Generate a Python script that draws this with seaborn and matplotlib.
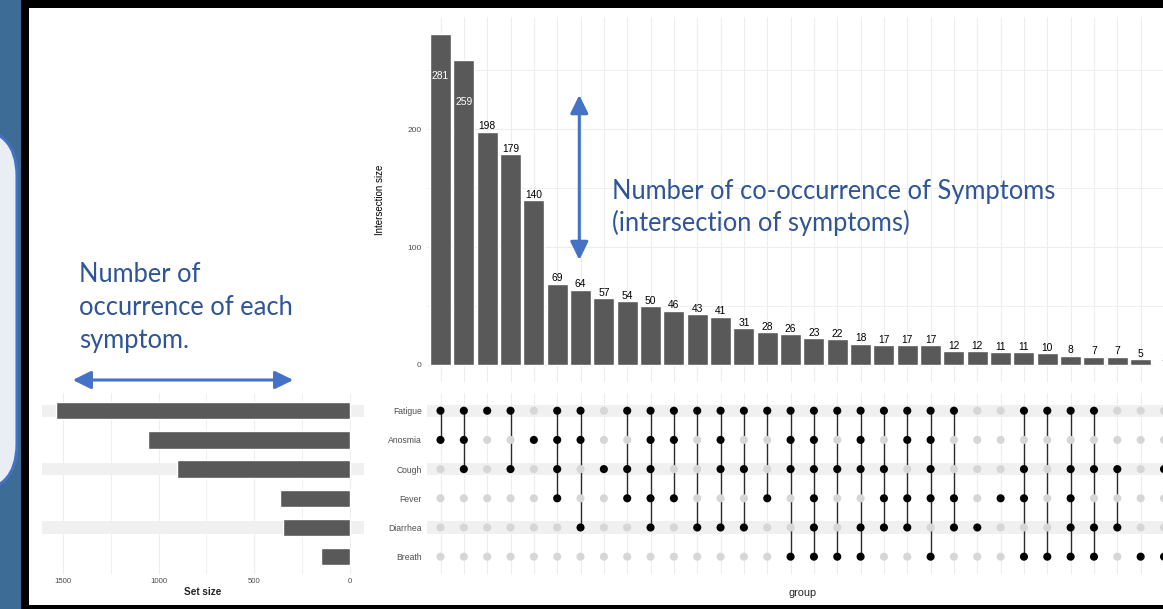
import matplotlib
matplotlib.use("Agg")
import matplotlib.pyplot as plt
import numpy as np
import pandas as pd
import seaborn as sns
from matplotlib.patches import FancyBboxPatch, Rectangle, FancyArrowPatch
from matplotlib.ticker import MultipleLocator

# ---- data -------------------------------------------------------------
sets = ["Fatigue", "Anosmia", "Cough", "Fever", "Diarrhea", "Breath"]
set_sizes = [1535, 1055, 902, 364, 350, 148]

intersection_sizes = [281, 259, 198, 179, 140, 69, 64, 57, 54, 50, 46, 43,
                      41, 31, 28, 26, 23, 22, 18, 17, 17, 17, 12, 12, 11, 11,
                      10, 8, 7, 7, 5, 1]

intersection_members = [
    ["Fatigue", "Anosmia"],
    ["Fatigue", "Anosmia", "Cough"],
    ["Fatigue"],
    ["Fatigue", "Cough"],
    ["Anosmia"],
    ["Fatigue", "Anosmia", "Cough", "Fever"],
    ["Fatigue", "Anosmia", "Diarrhea"],
    ["Cough"],
    ["Fatigue", "Cough", "Fever"],
    ["Fatigue", "Anosmia", "Cough", "Fever", "Diarrhea"],
    ["Fatigue", "Anosmia", "Fever"],
    ["Fatigue", "Diarrhea"],
    ["Fatigue", "Anosmia", "Cough", "Diarrhea"],
    ["Fatigue", "Cough", "Diarrhea"],
    ["Fatigue", "Fever"],
    ["Fatigue", "Anosmia", "Cough", "Breath"],
    ["Fatigue", "Anosmia", "Cough", "Fever", "Diarrhea", "Breath"],
    ["Fatigue", "Cough", "Breath"],
    ["Fatigue", "Anosmia", "Cough", "Diarrhea", "Breath"],
    ["Fatigue", "Cough", "Fever", "Diarrhea"],
    ["Fatigue", "Anosmia", "Fever", "Diarrhea"],
    ["Fatigue", "Anosmia", "Cough", "Fever", "Breath"],
    ["Fatigue", "Fever", "Diarrhea"],
    ["Diarrhea"],
    ["Fever"],
    ["Fatigue", "Cough", "Fever", "Breath"],
    ["Fatigue", "Breath"],
    ["Fatigue", "Cough", "Fever", "Diarrhea", "Breath"],
    ["Fatigue", "Cough", "Diarrhea", "Breath"],
    ["Cough", "Diarrhea"],
    ["Breath"],
    ["Cough", "Breath"],
]

intersection_names = ["-".join(m) for m in intersection_members]

# ---- style ------------------------------------------------------------
sns.set_theme(style="white")
plt.rcParams["font.family"] = ["Liberation Sans", "DejaVu Sans"]

W, H = 1163, 609
fig = plt.figure(figsize=(W / 100, H / 100), dpi=100)

BAR = "#595959"
GRID = "#EDEDED"
BAND = "#F0F0F0"
TICK = "#4D4D4D"
ANNOT_TEXT = "#2F5597"
ANNOT_LINE = "#4472C4"


def px_axes(x0, y0, x1, y1, z=1):
    ax = fig.add_axes([x0 / W, 1 - y1 / H, (x1 - x0) / W, (y1 - y0) / H], zorder=z)
    ax.set_facecolor("none")
    return ax


# ---- slide background ---------------------------------------------------
bg = fig.add_axes([0, 0, 1, 1], zorder=0)
bg.set_xlim(0, W)
bg.set_ylim(H, 0)
bg.axis("off")
bg.add_patch(Rectangle((0, 0), W, H, fc="#3D6D96", ec="none"))
bg.add_patch(FancyBboxPatch((-80, 128), 97, 364,
                            boxstyle="round,pad=0,rounding_size=48",
                            fc="#E9EEF4", ec=ANNOT_LINE, lw=2.2))
bg.add_patch(Rectangle((21, 0), W, H, fc="black", ec="none"))
bg.add_patch(Rectangle((29, 8), W, 597, fc="white", ec="none"))

n_cols = len(intersection_sizes)
xlim = (-0.6, n_cols - 1 + 0.6)

# ---- intersection size bars ---------------------------------------------
ax_bar = px_axes(426.5, 17.4, 1178, 381.5)
df_int = pd.DataFrame({"group": intersection_names, "size": intersection_sizes})
sns.barplot(data=df_int, x="group", y="size", order=intersection_names,
            color=BAR, saturation=1, width=0.9, ax=ax_bar, zorder=2)
ax_bar.set_xlim(*xlim)
ymax = max(intersection_sizes)
ax_bar.set_ylim(-0.05 * ymax, 1.05 * ymax)
ax_bar.set_axisbelow(True)
ax_bar.yaxis.set_major_locator(MultipleLocator(100))
ax_bar.yaxis.set_minor_locator(MultipleLocator(50))
ax_bar.set_xticks(range(n_cols))
ax_bar.grid(True, which="major", axis="both", color=GRID, lw=0.8)
ax_bar.grid(True, which="minor", axis="y", color=GRID, lw=0.6)
for s in ax_bar.spines.values():
    s.set_visible(False)
ax_bar.tick_params(axis="x", labelbottom=False, length=0)
ax_bar.tick_params(axis="y", which="both", length=0, labelsize=6,
                   labelcolor=TICK, pad=3.4)
ax_bar.set_xlabel("")
ax_bar.set_ylabel("Intersection size", fontsize=7, color="black")
ax_bar.yaxis.set_label_coords(-0.0555, 0.5)

for i, v in enumerate(intersection_sizes):
    if v >= 0.9 * ymax:
        ax_bar.text(i, v - 36, str(v), ha="center", va="center",
                    color="white", fontsize=7.4, zorder=3)
    else:
        ax_bar.annotate(str(v), (i, v), xytext=(0, 0.2),
                        textcoords="offset points", ha="center", va="bottom",
                        color="black", fontsize=7.4, zorder=3,
                        annotation_clip=False)

# ---- membership matrix --------------------------------------------------
ax_mat = px_axes(426.5, 393.2, 1178, 574.2)
rows = []
for i, members in enumerate(intersection_members):
    for j, name in enumerate(sets):
        rows.append({"col": i, "row": j, "active": name in members})
df_mat = pd.DataFrame(rows)

for r in range(0, len(sets), 2):
    ax_mat.axhspan(r - 0.21, r + 0.21, color=BAND, zorder=0.6, lw=0)

for i, members in enumerate(intersection_members):
    idx = [sets.index(m) for m in members]
    if len(idx) > 1:
        ax_mat.vlines(i, min(idx), max(idx), color="#2B2B2B", lw=1.0, zorder=2)

sns.scatterplot(data=df_mat, x="col", y="row", hue="active",
                palette={True: "black", False: "#D6D6D6"}, s=34,
                linewidth=0, legend=False, ax=ax_mat, zorder=3)
ax_mat.set_xlim(*xlim)
ax_mat.set_ylim(len(sets) - 1 + 0.6, -0.6)
ax_mat.set_axisbelow(True)
ax_mat.set_xticks(range(n_cols))
ax_mat.set_yticks(range(len(sets)))
ax_mat.set_yticklabels(sets)
ax_mat.grid(True, axis="x", color=GRID, lw=0.8)
ax_mat.grid(False, axis="y")
for s in ax_mat.spines.values():
    s.set_visible(False)
ax_mat.tick_params(axis="x", labelbottom=False, length=0)
ax_mat.tick_params(axis="y", length=0, labelsize=6.2, labelcolor=TICK, pad=3.4)
ax_mat.set_ylabel("")
ax_mat.set_xlabel("group", fontsize=7.8, color="#222222")
ax_mat.xaxis.set_label_coords(0.5, -0.075)

# ---- set size bars --------------------------------------------------------
ax_set = px_axes(41.7, 393.2, 364.3, 574.2)
df_set = pd.DataFrame({"set": sets, "size": set_sizes})
for r in range(0, len(sets), 2):
    ax_set.axhspan(r - 0.21, r + 0.21, color=BAND, zorder=0.6, lw=0)
sns.barplot(data=df_set, x="size", y="set", order=sets, orient="h",
            color=BAR, saturation=1, width=0.6, ax=ax_set, zorder=2)
smax = max(set_sizes)
ax_set.set_xlim(1.05 * smax, -0.05 * smax)
ax_set.set_ylim(len(sets) - 1 + 0.6, -0.6)
ax_set.set_axisbelow(True)
ax_set.xaxis.set_major_locator(MultipleLocator(500))
ax_set.xaxis.set_minor_locator(MultipleLocator(250))
ax_set.grid(True, which="major", axis="x", color=GRID, lw=0.8)
ax_set.grid(True, which="minor", axis="x", color=GRID, lw=0.6)
ax_set.grid(False, axis="y")
for s in ax_set.spines.values():
    s.set_visible(False)
ax_set.tick_params(axis="y", left=False, labelleft=False, length=0)
ax_set.tick_params(axis="x", which="both", length=0, labelsize=5.6,
                   labelcolor=TICK, pad=3.0)
ax_set.set_ylabel("")
ax_set.set_xlabel("Set size", fontsize=7.2, fontweight="bold", color="#222222")
ax_set.xaxis.set_label_coords(0.5, -0.072)

# ---- explanatory callouts -----------------------------------------------
ov = fig.add_axes([0, 0, 1, 1], zorder=5)
ov.set_facecolor("none")
ov.set_xlim(0, W)
ov.set_ylim(H, 0)
ov.axis("off")

callout_font = dict(family=["Lato", "DejaVu Sans"], fontsize=18.4,
                    color=ANNOT_TEXT, va="baseline", ha="left")
ov.text(612, 199, "Number of co-occurrence of Symptoms", **callout_font)
ov.text(612, 231.5, "(intersection of symptoms)", **callout_font)
ov.text(79, 281.5, "Number of", **callout_font)
ov.text(79, 315, "occurrence of each", **callout_font)
ov.text(79, 348.3, "symptom.", **callout_font)

arrow_kw = dict(arrowstyle="<|-|>,head_length=11,head_width=5.4",
                mutation_scale=1, lw=2.2, color=ANNOT_LINE,
                shrinkA=0, shrinkB=0)
ov.add_patch(FancyArrowPatch((579.3, 95), (579.3, 260), **arrow_kw))
ov.add_patch(FancyArrowPatch((72.7, 380), (293.3, 380), **arrow_kw))

fig.savefig("out.png", dpi=100)
